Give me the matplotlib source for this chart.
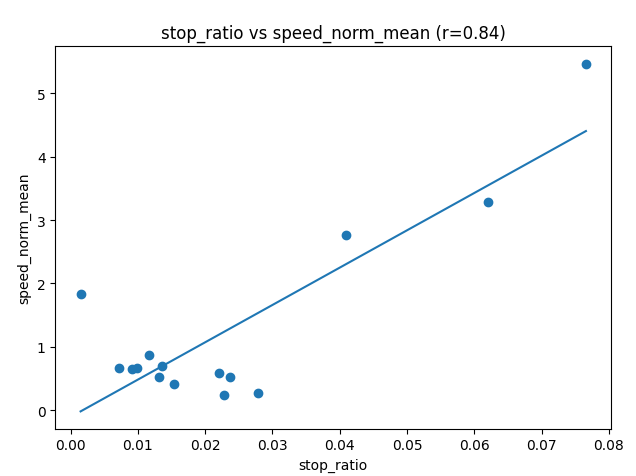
import numpy as np
import matplotlib
matplotlib.use("Agg")
import matplotlib.pyplot as plt

# values
stop_ratio = [0.0015, 0.0072, 0.0092, 0.0099, 0.0117, 0.0136, 0.0131, 0.0154,
              0.0220, 0.0237, 0.0228, 0.0278, 0.0410, 0.0620, 0.0766]
speed_norm_mean = [1.83, 0.66, 0.65, 0.67, 0.87, 0.69, 0.52, 0.41,
                   0.58, 0.52, 0.23, 0.27, 2.77, 3.29, 5.47]

x = np.array(stop_ratio)
y = np.array(speed_norm_mean)
r = np.corrcoef(x, y)[0, 1]
slope, intercept = np.polyfit(x, y, 1)
xs = np.array([x.min(), x.max()])

fig, ax = plt.subplots(figsize=(6.36, 4.77), dpi=100)
fig.subplots_adjust(left=0.087, right=0.961, bottom=0.099, top=0.901)

ax.scatter(x, y)
ax.plot(xs, slope * xs + intercept)

ax.set_title(f"stop_ratio vs speed_norm_mean (r={r:.2f})")
ax.set_xlabel("stop_ratio")
ax.set_ylabel("speed_norm_mean")

fig.savefig("out.png")
print(r, slope, intercept, slope * xs + intercept)
